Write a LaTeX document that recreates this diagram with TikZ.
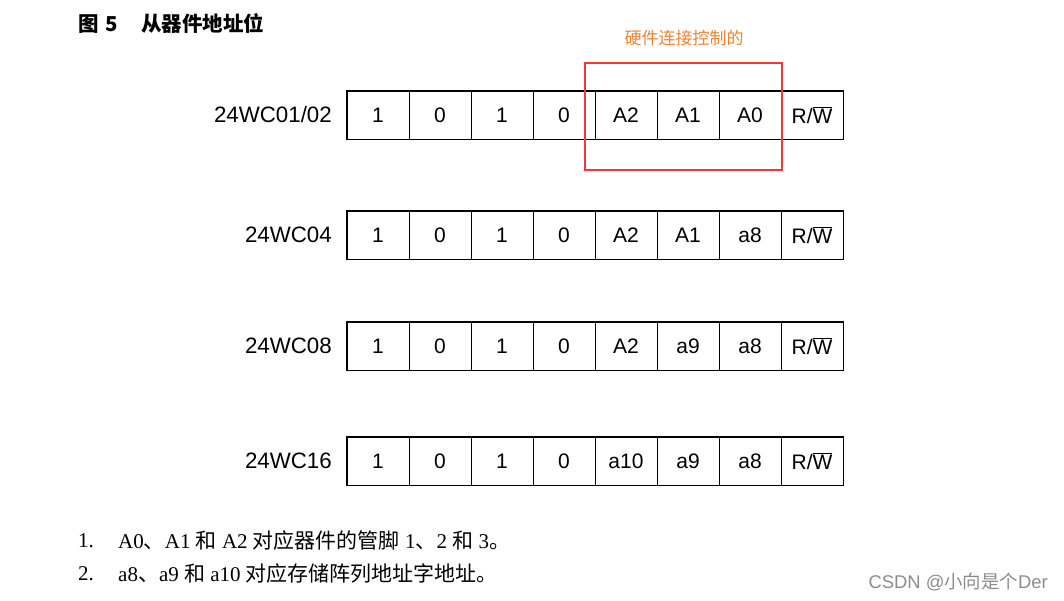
\documentclass[tikz,border=0pt]{standalone}
\usepackage{fontspec}
\setmainfont{Liberation Serif}
\setsansfont{Liberation Sans}
\newfontfamily\cjk{Noto Sans CJK SC}
\newcommand\rwbar{R/$\overline{\mbox{W}}$}
\definecolor{hwred}{RGB}{240,58,58}
\definecolor{hworange}{RGB}{240,130,50}
\definecolor{wmgray}{RGB}{140,140,140}
\tikzset{
  cell/.style={draw, line width=0.9pt, minimum width=62pt, minimum height=48pt, inner sep=0pt,
    font=\sffamily\fontsize{21}{21}\selectfont},
  outer/.style={line width=1.8pt},
  devlabel/.style={anchor=east, inner sep=0pt, font=\sffamily\fontsize{22.3}{22}\selectfont},
  note/.style={anchor=west, inner sep=0pt, font=\rmfamily\fontsize{21}{21}\selectfont},
}
\begin{document}
\begin{tikzpicture}[x=1pt,y=-1pt]
\useasboundingbox (0,0) rectangle (1064,601);
% title
\node[anchor=west, inner sep=0pt, font=\cjk\bfseries\fontsize{20.5}{20}\selectfont] (title) at (78,24)
  {图\hspace{7pt}5\hspace{23pt}从器件地址位};
% rows
\foreach \r/\y/\lab/\e/\f/\g in {r1/115/{24WC01/02}/A2/A1/A0, r2/235/24WC04/A2/A1/a8, r3/346/24WC08/A2/a9/a8, r4/461/24WC16/a10/a9/a8}{
  \foreach \t [count=\i] in {1,0,1,0,\e,\f,\g,\rwbar}
    \node[cell] (\r-\i) at ({347+62*(\i-0.5)},\y) {\t};
  \draw[outer] (\r-1.north west) rectangle (\r-8.south east);
  \node[devlabel] (\r-lab) at (332,\y) {\lab};
}
% red highlight box
\node[draw=hwred, line width=2pt, minimum width=197pt, minimum height=107pt, inner sep=0pt] (hw) at (683.5,116.5) {};
\node[inner sep=0pt, text=hworange, font=\cjk\fontsize{17}{17}\selectfont] (hwlab) at (684,38) {硬件连接控制的};
% notes
\node[note] (n1num) at (78,541) {1.};
\node[note] (n1) at (118,541) {A0{\cjk 、}A1 {\cjk 和} A2 {\cjk 对应器件的管脚} 1{\cjk 、}2 {\cjk 和} 3{\cjk 。}};
\node[note] (n2num) at (78,574) {2.};
\node[note] (n2) at (118,574) {a8{\cjk 、}a9 {\cjk 和} a10 {\cjk 对应存储阵列地址字地址。}};
% watermark
\node[anchor=east, inner sep=0pt, text=wmgray, font=\sffamily\fontsize{18.4}{18}\selectfont] (wm) at (1048,582) {CSDN @{\cjk 小向是个}Der};
\end{tikzpicture}
\end{document}
